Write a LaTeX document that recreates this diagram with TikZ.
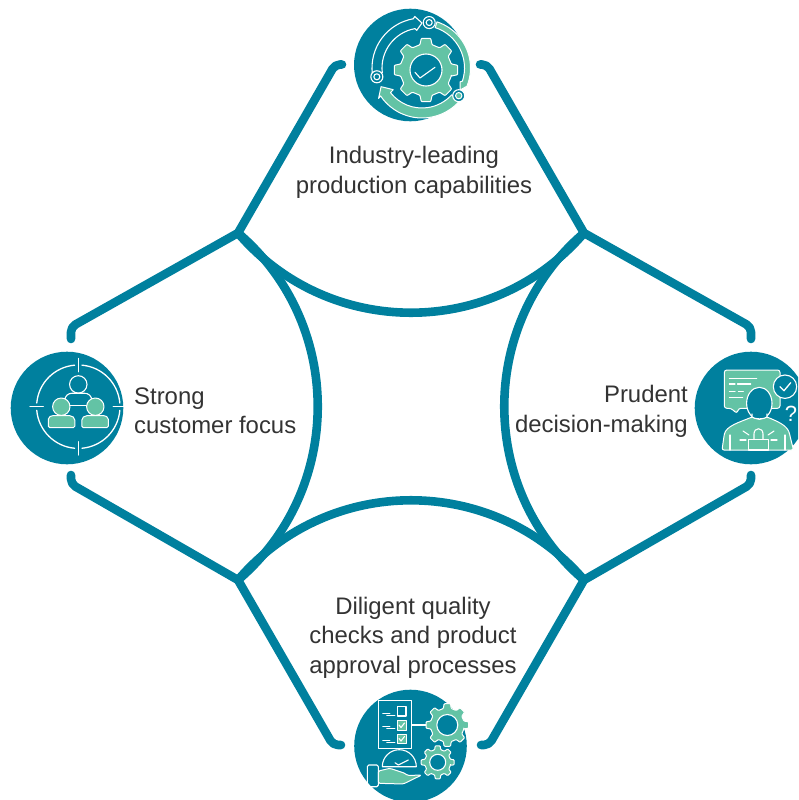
\documentclass[tikz,border=0pt]{standalone}
\usepackage{fontspec}
\setmainfont{Liberation Sans}
\definecolor{teal1}{HTML}{00809E}
\definecolor{green1}{HTML}{63C3A5}
\definecolor{ink}{HTML}{333333}
\tikzset{
  frame/.style={line width=8.6pt,draw=teal1,line cap=round,line join=round},
  bowl/.style={line width=8.6pt,draw=teal1},
  disc/.style={circle,fill=teal1,minimum size=112.6pt,inner sep=0pt},
  label/.style={font=\fontsize{23.9}{29.5}\selectfont,text=ink,inner sep=0pt},
  wl/.style={draw=white,line width=1.1pt,line cap=round,line join=round},
  gl/.style={fill=green1,draw=white,line width=1pt,line join=round},
  tl/.style={fill=teal1,draw=white,line width=1.1pt,line join=round}
}
\newcommand\gearshape[3][]{%
  \path[gl,rounded corners=0.8pt,#1] (-13.5:#2) \foreach \a in {0,45,...,315}{ -- ({\a-13.5}:#2) -- ({\a-8.5}:#3) -- ({\a+8.5}:#3) -- ({\a+13.5}:#2)} -- cycle;
}
\begin{document}
\begin{tikzpicture}[x=1pt,y=-1pt]
\useasboundingbox (0,0) rectangle (798,800);
\clip (0,0) rectangle (798,800);
% junctions and free ends
\coordinate (TL) at (238,233);
\coordinate (TR) at (584,233);
\coordinate (BL) at (238,580);
\coordinate (BR) at (584,580);
\coordinate (a1c) at (335,64.5); \coordinate (a1e) at (342,64.5);
\coordinate (a2c) at (487,64.5); \coordinate (a2e) at (480,64.5);
\coordinate (a3c) at (71,327);   \coordinate (a3e) at (71,339);
\coordinate (a4c) at (751,327);  \coordinate (a4e) at (751,339);
\coordinate (a5c) at (71,484);   \coordinate (a5e) at (71,475);
\coordinate (a6c) at (751,484);  \coordinate (a6e) at (751,475);
\coordinate (a7c) at (333,745);  \coordinate (a7e) at (341,745);
\coordinate (a8c) at (489,745);  \coordinate (a8e) at (481,745);
% arcs
\draw[bowl] (TL) to[out=-49.5,in=-130.5,distance=139.8pt] (TR);
\draw[bowl] (BL) to[out=49.5,in=130.5,distance=139.8pt] (BR);
\draw[bowl] (TL) to[out=-40.5,in=40.5,distance=139.8pt] (BL);
\draw[bowl] (TR) to[out=-139.5,in=139.5,distance=139.8pt] (BR);
% arms
\draw[frame,rounded corners=5pt] (TL) -- (a1c) -- (a1e);
\draw[frame,rounded corners=5pt] (TR) -- (a2c) -- (a2e);
\draw[frame,rounded corners=5pt] (TL) -- (a3c) -- (a3e);
\draw[frame,rounded corners=5pt] (TR) -- (a4c) -- (a4e);
\draw[frame,rounded corners=5pt] (BL) -- (a5c) -- (a5e);
\draw[frame,rounded corners=5pt] (BR) -- (a6c) -- (a6e);
\draw[frame,rounded corners=5pt] (BL) -- (a7c) -- (a7e);
\draw[frame,rounded corners=5pt] (BR) -- (a8c) -- (a8e);
% discs
\node[disc] (top) at (410.3,65) {};
\node[disc] (bot) at (410.5,746) {};
\node[disc] (lft) at (67,408) {};
\node[disc] (rgt) at (751,408) {};
% labels
\node[label,align=center] (t1) at (414,172.5) {Industry-leading\\production capabilities};
\node[label,align=left,anchor=west] (t2) at (134,411) {Strong\\customer focus};
\node[label,align=right,anchor=east] (t3) at (688,411.5) {Prudent\\decision-making};
\node[label,align=center] (t4) at (413,637.5) {Diligent quality\\checks and product\\approval processes};
% ---- top icon
\begin{scope}[shift={(422,68)},y=1pt]
  \path[tl] (187:50) arc[start angle=187,end angle=100,radius=50] -- (98:52) -- (90:45) -- (98:38) -- (100:40) arc[start angle=100,end angle=187,radius=40] -- cycle;
  \path[gl] (72:48.5) arc[start angle=72,end angle=-22,radius=48.5] -- (-30:44) -- (-20:40.5) -- (-18:42.5) arc[start angle=-18,end angle=72,radius=42.5] -- cycle;
  \path[gl] (-42:50) arc[start angle=-42,end angle=-146,radius=50] -- (-145:53) -- (-155.5:45) -- (-143:36) -- (-142:40) arc[start angle=-142,end angle=-42,radius=40] -- cycle;
  \path[tl] (191:46) circle[radius=6];
  \path[wl] (191:46) circle[radius=3];
  \path[tl] (81:46) circle[radius=6];
  \path[wl] (81:46) circle[radius=3];
  \path[tl] (-37:46) circle[radius=6];
  \path[gl] (-37:46) circle[radius=3.2];
  \begin{scope}[shift={(4,-2)}]
    \gearshape{26}{32}
    \path[tl] (0,0) circle[radius=16];
    \draw[wl] (-11,-2.3) -- (-6,-8) -- (9,2.7);
  \end{scope}
\end{scope}
% ---- bottom icon
\begin{scope}[shift={(410.5,746)},y=1pt]
  \draw[wl] (-32.2,45.3) rectangle (1.2,-2.3);
  \draw[wl] (-13.2,39.3) rectangle (-4.5,30);
  \path[gl] (-13.2,25.3) rectangle (-4.5,16);
  \path[gl] (-13.2,12) rectangle (-4.5,2.7);
  \draw[wl] (-11.5,21) -- (-9.5,18.5) -- (-6,23);
  \draw[wl] (-11.5,7.5) -- (-9.5,5) -- (-6,9.5);
  \foreach \y in {0,13.5,27}{
    \draw[wl,line width=.9pt] (-27.8,5.7+\y) -- (-20.5,5.7+\y);
    \draw[wl,line width=.9pt] (-23.8,3.7+\y) -- (-15.5,3.7+\y);
  }
  \draw[wl] (1.2,21) -- (16.5,21);
  \begin{scope}[shift={(36.8,21)}]
    \gearshape{17}{21.5}
    \path[tl] (0,0) circle[radius=10.5];
  \end{scope}
  \begin{scope}[shift={(27.2,-16.3)}]
    \gearshape{13}{16.7}
    \path[tl] (0,0) circle[radius=8];
  \end{scope}
  % clock
  \path[tl] (-28.2,-20.7) arc[start angle=180,end angle=0,radius=17] -- cycle;
  \draw[wl] (-15.5,-16.7) -- (-12.2,-19) -- (-2.2,-14);
  % hand
  \path[gl,rounded corners=1.5pt] (-32.2,-25) -- (-20.5,-22.3) -- (-5.5,-27.3) -- (-3,-29.5) -- (11.2,-29) -- (-7.2,-38) -- (-32.2,-37.3) -- cycle;
  \draw[wl,rounded corners=1.5pt] (-43.2,-19) rectangle (-32.2,-40.7);
\end{scope}
% ---- left icon
\begin{scope}[shift={(78.3,406.7)},y=1pt]
  \foreach \s in {0,90,180,270}{\draw[wl,line width=1.3pt] (\s+5:41.7) arc[start angle=\s+5,end angle=\s+85,radius=41.7];}
  \draw[wl,line width=1.3pt] (0,48.3) -- (0,35);
  \draw[wl,line width=1.3pt] (0,-35) -- (0,-48.3);
  \draw[wl,line width=1.3pt] (-48.3,0) -- (-35,0);
  \draw[wl,line width=1.3pt] (35,0) -- (46,0);
  \draw[wl] (0,22.3) circle[radius=8.7];
  \draw[wl] (-13.5,6) .. controls (-13.5,11) and (-10,13.5) .. (-6,13.5) -- (6,13.5) .. controls (10,13.5) and (13.5,11) .. (13.5,6);
  \draw[wl] (-9,1) -- (9,1);
  \path[gl] (-17,0) circle[radius=8.7];
  \path[gl] (17,0) circle[radius=8.7];
  \path[gl,rounded corners=1.5pt] (-30,-21) -- (-30,-14) .. controls (-30,-10) and (-27,-9) .. (-24,-9) -- (-10,-9) .. controls (-6,-9) and (-3.5,-11) .. (-3.5,-15) -- (-3.5,-21) -- cycle;
  \path[gl,rounded corners=1.5pt] (30,-21) -- (30,-14) .. controls (30,-10) and (27,-9) .. (24,-9) -- (10,-9) .. controls (6,-9) and (3.5,-11) .. (3.5,-15) -- (3.5,-21) -- cycle;
\end{scope}
% ---- right icon
\begin{scope}[shift={(680,340)},y=-1pt,x=1pt]
  \path[gl,rounded corners=2.5pt] (44.3,30) -- (100,30) -- (100,68.3) -- (58.5,68.3) -- (57,73.5) -- (51,68.3) -- (44.3,68.3) -- cycle;
  \foreach \a/\b/\c in {49.3/76.7/38.3,49.3/55/44,57.5/70.7/44,49.3/55/51.7,58.5/63.3/51.7,49.3/62.7/57.3}{
    \draw[wl] (\a,\c) -- (\b,\c);
  }
  \path[tl] (105,46.7) circle[radius=11.7];
  \draw[wl,line width=1.3pt] (100,46.7) -- (104,50.7) -- (110.7,42.7);
  \node[text=white,font=\fontsize{22}{22}\selectfont,inner sep=0pt] (qm) at (111,74.3) {?};
  % body
  \path[gl,rounded corners=2pt] (42,110) -- (44,96) .. controls (46,86) and (60,82) .. (72,77) -- (87,77) .. controls (99,82) and (108,86) .. (110,96) -- (113.5,110) -- cycle;
  \path[tl] (79.3,63.3) ellipse[x radius=12.7,y radius=16];
  \path[fill=teal1] (72,72) -- (87,72) -- (87,77) .. controls (84,79.5) and (75,79.5) .. (72,77) -- cycle;
  \draw[wl] (72,74) -- (72,77) .. controls (75,79.5) and (84,79.5) .. (87,77) -- (87,74);
  \draw[wl] (50,95) -- (50,110);
  \draw[wl] (105,95) -- (105,110);
  % badge
  \draw[wl] (68.3,99.5) rectangle (88.3,110);
  \draw[wl] (74,99.5) -- (74,94) .. controls (74,87) and (83,87) .. (83,94) -- (83,99.5);
  \draw[wl] (60,100) -- (66,100);
  \draw[wl] (91,100) -- (97,100);
  \draw[wl] (63,91) -- (69,95);
  \draw[wl] (94,91) -- (88,95);
\end{scope}
\end{tikzpicture}
\end{document}
